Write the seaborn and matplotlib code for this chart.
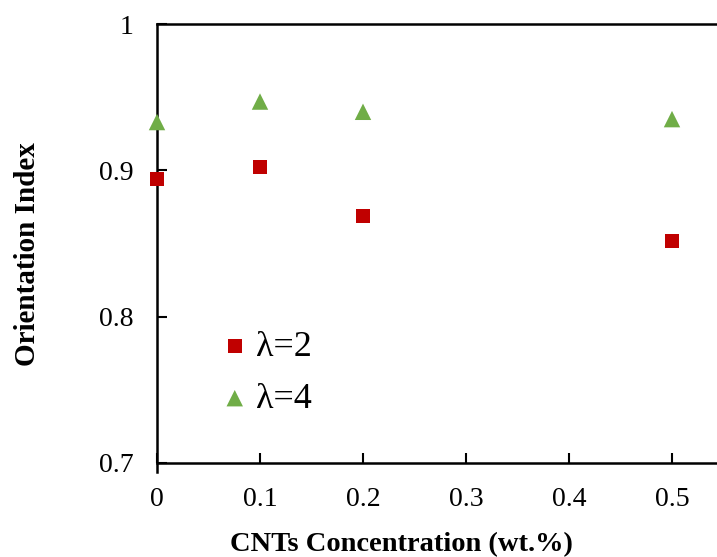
import matplotlib
matplotlib.use("Agg")
import matplotlib.pyplot as plt
import seaborn as sns
import pandas as pd

conc = [0, 0.1, 0.2, 0.5]
lam2 = [0.894, 0.902, 0.869, 0.852]
lam4 = [0.933, 0.947, 0.940, 0.935]
xticks = [0, 0.1, 0.2, 0.3, 0.4, 0.5]
xticklabels = ["0", "0.1", "0.2", "0.3", "0.4", "0.5"]
yticks = [0.7, 0.8, 0.9, 1.0]
yticklabels = ["0.7", "0.8", "0.9", "1"]

df2 = pd.DataFrame({"conc": conc, "oi": lam2})
df4 = pd.DataFrame({"conc": conc, "oi": lam4})

sns.set_style("white")
plt.rcParams["font.family"] = ["Liberation Serif", "DejaVu Serif"]
plt.rcParams["text.color"] = "black"
plt.rcParams["axes.labelcolor"] = "black"

fig = plt.figure(figsize=(7.17, 5.57), dpi=100)
W, H = 717, 557
x0, x1 = 157, 157 + 0.55 * 1030
y0, y1 = 463, 24
ax = fig.add_axes([x0 / W, (H - y0) / H, (x1 - x0) / W, (y0 - y1) / H])

sns.scatterplot(data=df2, x="conc", y="oi", color="#C00000", marker="s", s=100,
                edgecolor="none", ax=ax, label="λ=2", clip_on=False, zorder=3)
sns.scatterplot(data=df4, x="conc", y="oi", color="#70AD47", marker="^", s=140,
                edgecolor="none", ax=ax, label="λ=4", clip_on=False, zorder=3)

ax.set_xlim(0, 0.55)
ax.set_ylim(0.7, 1.0)
ax.set_xticks(xticks)
ax.set_xticklabels(xticklabels)
ax.set_yticks(yticks)
ax.set_yticklabels(yticklabels)
ax.tick_params(axis="both", direction="in", length=7, width=1.5, labelsize=20,
               colors="black", bottom=True, left=True)
ax.tick_params(axis="x", pad=17)
ax.tick_params(axis="y", pad=17)
for side in ["left", "bottom", "top"]:
    ax.spines[side].set_visible(True)
    ax.spines[side].set_color("black")
    ax.spines[side].set_linewidth(1.8)
ax.spines["right"].set_visible(False)
ax.spines["left"].set_bounds(0.694, 1.0)

ax.set_xlabel("CNTs Concentration (wt.%)", fontsize=20.5, fontweight="bold",
              color="black")
ax.set_ylabel("Orientation Index", fontsize=21, fontweight="bold",
              color="black")
ax.xaxis.set_label_coords(0.4316, -0.157)
ax.yaxis.set_label_coords(-0.205, 0.476)

leg = ax.legend(loc="center left", bbox_to_anchor=(0.0735, 0.205), frameon=False,
                fontsize=26, handletextpad=0.0, labelspacing=0.52,
                borderaxespad=0, handlelength=1.2)
for t in leg.get_texts():
    t.set_color("black")

fig.savefig("out.png", dpi=100)
